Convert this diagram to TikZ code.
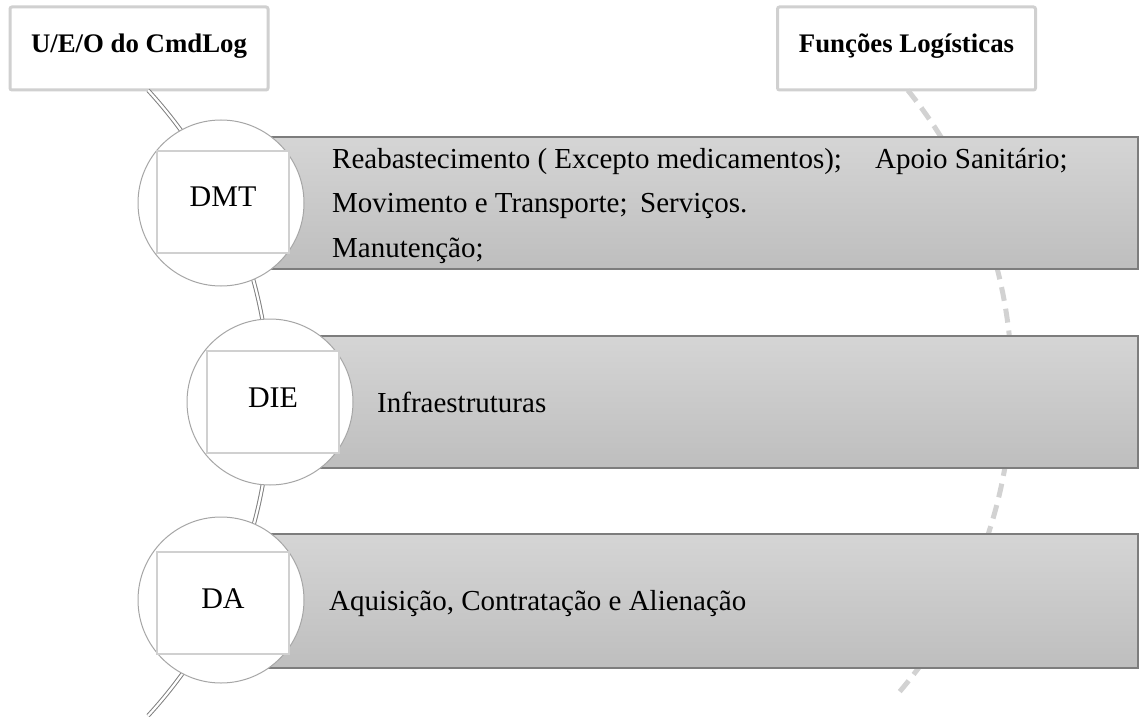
\documentclass[tikz,border=0pt]{standalone}
\usepackage{fontspec}
\setmainfont{Liberation Serif}
\usetikzlibrary{shadings}
\definecolor{hdrgray}{RGB}{208,208,208}
\definecolor{circgray}{RGB}{166,166,166}
\definecolor{barline}{RGB}{125,125,125}
\definecolor{bartop}{RGB}{213,213,213}
\definecolor{barbot}{RGB}{190,190,190}
\definecolor{dashgray}{RGB}{210,210,210}
\definecolor{dblgray}{RGB}{128,128,128}
\begin{document}
\begin{tikzpicture}[x=1pt,y=1pt,
  hdr/.style={draw=hdrgray, line width=3pt, rounded corners=2pt, fill=white,
    minimum width=258pt, minimum height=83pt, inner sep=0pt,
    font=\fontsize{26.8}{30}\selectfont\bfseries, text height=19pt, text depth=10pt},
  bar/.style={draw=barline, line width=1.1pt, top color=bartop, bottom color=barbot},
  disc/.style={circle, draw=circgray, line width=1pt, fill=white, minimum size=166pt, inner sep=0pt},
  lblbox/.style={draw=hdrgray, line width=2.5pt, fill=white, minimum width=132pt,
    minimum height=102pt, inner sep=0pt, font=\fontsize{30}{34}\selectfont,
    text height=21pt, text depth=11pt},
  body/.style={anchor=base west, inner sep=0pt, font=\fontsize{29}{34}\selectfont},
  dbl/.style={draw=dblgray, line width=1pt, double=white, double distance=2.2pt},
  dsh/.style={draw=dashgray, line width=5pt, dash pattern=on 14pt off 8pt}
]
\useasboundingbox (0,0) rectangle (1139,716);

% headers
\node[hdr] (hdrA) at (139,667.5) {U/E/O do CmdLog};
\node[hdr] (hdrB) at (906.5,667.5) {Funções Logísticas};

% arcs (behind)
\coordinate (ctrL) at (-192,313);
\coordinate (ctrR) at (540,330);
\draw[dbl] (ctrL) ++(42.6:462) arc[start angle=42.6, end angle=-42.6, radius=462];
\draw[dsh] (ctrR) ++(38.8:472) arc[start angle=38.8, end angle=-40.9, radius=472];

% bars
\path[bar] (221,447) rectangle (1138,579);
\path[bar] (270,248) rectangle (1138,380);
\path[bar] (221,48) rectangle (1138,182);

% circles
\node[disc] (cDMT) at (221,513) {};
\node[disc] (cDIE) at (270,314) {};
\node[disc] (cDA) at (221,116) {};

% label boxes
\node[lblbox] (bDMT) at (223,514) {DMT};
\node[lblbox] (bDIE) at (273,314) {DIE};
\node[lblbox] (bDA) at (223,113) {DA};

% texts
\node[body] (t1a) at (332,547) {Reabastecimento ( Excepto medicamentos);};
\node[body] (t1b) at (875,547) {Apoio Sanitário;};
\node[body] (t2a) at (332,503) {Movimento e Transporte;};
\node[body] (t2b) at (640,503) {Serviços.};
\node[body] (t3a) at (332,459) {Manutenção;};
\node[body] (tDIE) at (377,304) {Infraestruturas};
\node[body] (tDA) at (329,106) {Aquisição, Contratação e Alienação};
\end{tikzpicture}
\end{document}
